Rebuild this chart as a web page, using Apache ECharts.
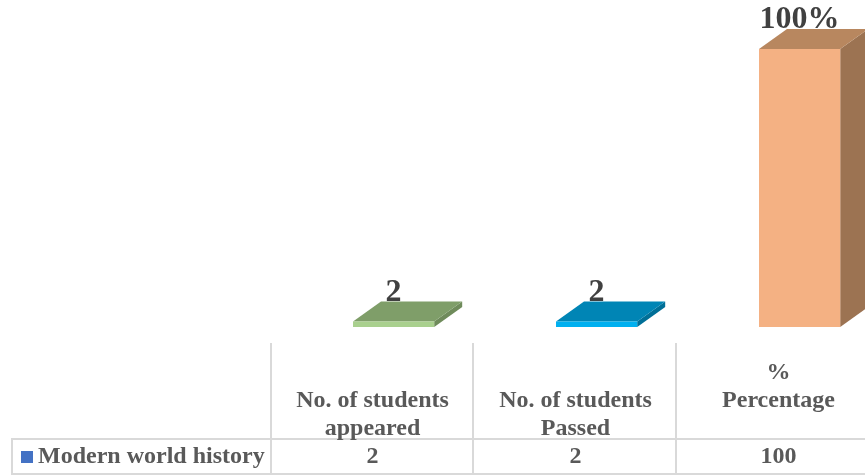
<!DOCTYPE html>
<html>
<head>
<meta charset="utf-8">
<script src="https://cdn.jsdelivr.net/npm/echarts@6/dist/echarts.min.js"></script>
<style>html,body{margin:0;padding:0;background:#fff}#c{width:865px;height:475px}</style>
</head>
<body>
<div id="c"></div>
<script>
var categories = ["No. of students\nappeared", "No. of students\nPassed", "%\nPercentage\n"];
var seriesName = "Modern world history";
var values = [2, 2, 100];
var labelSuffix = ["", "", "%"];
var frontColors = ["#a9d08e", "#00b0f0", "#f4b183"];
var topColors = ["#7f9e69", "#0085b5", "#b8875f"];
var sideColors = ["#6f8b5b", "#006f97", "#9c7352"];

var FONT = "'Liberation Serif', 'Times New Roman', serif";
var chart = echarts.init(document.getElementById('c'), null, {renderer: 'canvas'});
var DX = 28, DY = 20;

var option = {
  animation: false,
  backgroundColor: '#ffffff',
  grid: {left: 271, width: 609, top: 49, bottom: 148, outerBoundsMode: 'none', containLabel: false},
  xAxis: [{
    type: 'category',
    data: categories,
    axisLine: {show: false}, axisTick: {show: false},
    axisLabel: {
      interval: 0, margin: 116, verticalAlign: 'bottom',
      fontFamily: FONT, fontWeight: 'bold', fontSize: 24, lineHeight: 28,
      color: '#595959', align: 'center'
    }
  }, {
    type: 'category',
    position: 'bottom',
    data: values.map(String),
    axisLine: {show: false}, axisTick: {show: false},
    axisLabel: {
      interval: 0, margin: 130, verticalAlign: 'middle',
      fontFamily: FONT, fontWeight: 'bold', fontSize: 24,
      color: '#595959'
    }
  }],
  yAxis: {type: 'value', min: 0, max: 100, show: false},
  series: [{
    type: 'custom',
    name: seriesName,
    clip: false,
    data: values.map(function (v, i) { return [i, v]; }),
    renderItem: function (params, api) {
      var i = api.value(0);
      var v = api.value(1);
      var top = api.coord([i, v]);
      var base = api.coord([i, 0]);
      var band = api.size([1, 0])[0];
      var w = band * 0.4;
      var cx = top[0] + band * 0.104;
      var x0 = cx - w / 2, x1 = cx + w / 2;
      var ty = top[1], by = base[1];
      return {
        type: 'group',
        children: [
          {type: 'polygon', shape: {points: [[x1, ty], [x1 + DX, ty - DY], [x1 + DX, by - DY], [x1, by]]},
            style: {fill: sideColors[i]}},
          {type: 'polygon', shape: {points: [[x0, ty], [x0 + DX, ty - DY], [x1 + DX, ty - DY], [x1, ty]]},
            style: {fill: topColors[i]}},
          {type: 'rect', shape: {x: x0, y: ty, width: w, height: by - ty},
            style: {fill: frontColors[i]}},
          {type: 'text', x: cx, y: ty - 29,
            style: {text: v + labelSuffix[i], fontFamily: FONT, fontWeight: 'bold', fontSize: 32,
              fill: '#404040', align: 'center', verticalAlign: 'middle'}}
        ]
      };
    }
  }],
  graphic: [
    {type: 'line', shape: {x1: 271, y1: 343, x2: 271, y2: 475}, style: {stroke: '#d9d9d9', lineWidth: 2}},
    {type: 'line', shape: {x1: 473, y1: 343, x2: 473, y2: 475}, style: {stroke: '#d9d9d9', lineWidth: 2}},
    {type: 'line', shape: {x1: 676, y1: 343, x2: 676, y2: 475}, style: {stroke: '#d9d9d9', lineWidth: 2}},
    {type: 'line', shape: {x1: 12, y1: 438, x2: 12, y2: 475}, style: {stroke: '#d9d9d9', lineWidth: 2}},
    {type: 'line', shape: {x1: 12, y1: 439, x2: 865, y2: 439}, style: {stroke: '#d9d9d9', lineWidth: 2}},
    {type: 'line', shape: {x1: 12, y1: 474, x2: 865, y2: 474}, style: {stroke: '#d9d9d9', lineWidth: 2}},
    {type: 'rect', shape: {x: 21, y: 451, width: 12, height: 12}, style: {fill: '#4472c4'}},
    {type: 'text', x: 38, y: 457, style: {text: seriesName, fontFamily: FONT, fontWeight: 'bold', fontSize: 24,
      fill: '#595959', verticalAlign: 'middle', align: 'left'}}
  ]
};
chart.setOption(option);
</script>
</body>
</html>
